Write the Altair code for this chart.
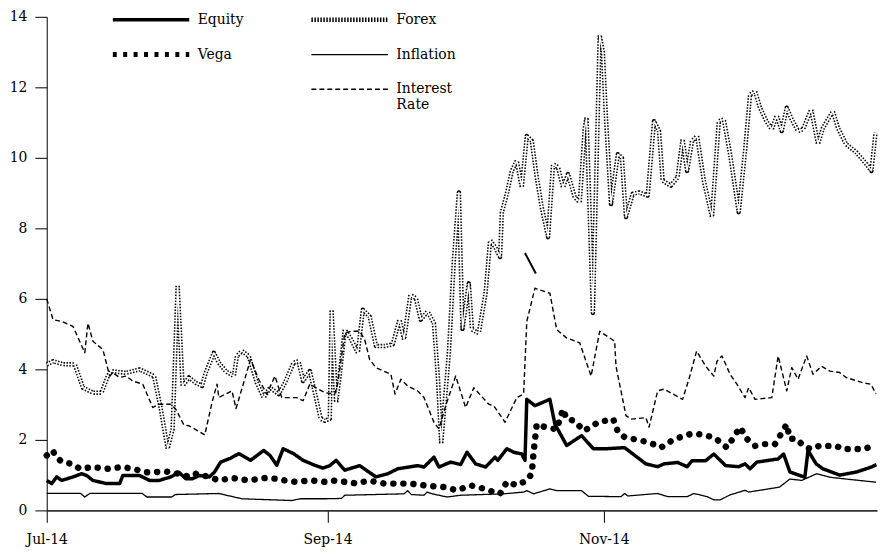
import altair as alt
import pandas as pd

START = pd.Timestamp("2014-07-01")

# ---- data (day offset from 1 Jul 2014, value) ----
eq_days = [0, 1.1, 2.2, 3.3, 5.8, 7.7, 8.8, 10.2, 13.2, 16.1, 16.8, 20.5, 22.7, 24.8, 27.4, 29.2,
           30.7, 32.2, 33.7, 35.9, 37.0, 38.4, 40.6, 42.4, 45.0, 47.9, 49.3, 50.8, 52.2, 54.5,
           56.6, 59.2, 61.0, 62.5, 63.9, 65.8, 69.1, 72.7, 75.3, 77.5, 81.9, 83.3, 85.5, 86.6,
           89.2, 91.4, 92.8, 94.7, 96.9, 99.0, 99.6, 101.6, 103.1, 104.9, 105.6, 106.0, 107.8,
           111.1, 112.2, 113.4, 114.8, 118.1, 120.7, 123.6, 127.6, 132.3, 134.9, 136.3, 139.3,
           141.4, 142.5, 145.5, 147.3, 149.9, 152.8, 154.2, 155.3, 156.8, 161.5, 162.7, 164.1,
           167.4, 168.1, 169.9, 171.4, 175.1, 178.8, 182.1, 183.2]
eq_vals = [0.85, 0.76, 0.95, 0.85, 0.95, 1.04, 0.99, 0.85, 0.76, 0.76, 0.99, 0.99, 0.85, 0.85, 0.95, 1.08,
           0.9, 0.9, 0.99, 0.95, 1.08, 1.37, 1.48, 1.61, 1.42, 1.7, 1.56, 1.28, 1.75, 1.61,
           1.42, 1.28, 1.2, 1.27, 1.42, 1.14, 1.27, 0.95, 1.04, 1.18, 1.27, 1.23, 1.51, 1.23,
           1.37, 1.3, 1.65, 1.32, 1.23, 1.51, 1.42, 1.75, 1.65, 1.6, 1.42, 3.15, 2.97,
           3.15, 2.45, 2.17, 1.84, 2.12, 1.75, 1.75, 1.78, 1.32, 1.24, 1.32, 1.36,
           1.24, 1.41, 1.41, 1.6, 1.27, 1.24, 1.32, 1.18, 1.37, 1.46, 1.6, 1.09,
           0.94, 1.7, 1.32, 1.18, 1.0, 1.09, 1.23, 1.3]

vega_days = [0, 1.3, 2.2, 3.3, 5.8, 7.3, 10.2, 13.2, 16.8, 19.0, 22.0, 26.4, 29.2, 31.4, 32.9,
             35.9, 38.0, 40.9, 44.6, 48.3, 50.4, 52.6, 54.8, 58.5, 61.4, 63.0, 65.8, 68.7, 70.9,
             74.6, 77.5, 80.4, 83.3, 87.7, 90.6, 93.6, 96.7, 98.7, 100.1, 101.6, 103.8, 106.0,
             107.1, 107.5, 108.2, 110.1, 112.6, 114.0, 114.8, 116.6, 118.5, 120.2, 121.7, 125.1,
             126.2, 127.6, 131.9, 134.1, 135.6, 137.8, 139.3, 142.2, 143.6, 145.8, 147.6, 150.2,
             151.7, 153.1, 154.6, 156.4, 158.2, 160.8, 163.4, 164.1, 165.5, 167.4, 168.8, 170.6,
             174.3, 175.8, 178.0, 180.5, 182.4]
vega_vals = [1.56, 1.7, 1.5, 1.38, 1.31, 1.18, 1.23, 1.18, 1.23, 1.18, 1.08, 1.1, 1.04, 0.95, 1.04,
             0.95, 0.85, 0.92, 0.85, 0.92, 0.9, 0.85, 0.81, 0.85, 0.81, 0.85, 0.81, 0.76, 0.85,
             0.76, 0.76, 0.76, 0.71, 0.66, 0.57, 0.71, 0.61, 0.52, 0.47, 0.81, 0.71, 0.85,
             1.04, 1.65, 2.45, 2.36, 2.3, 2.87, 2.59, 2.54, 2.26, 2.36, 2.5, 2.59,
             2.2, 2.08, 1.96, 1.87, 1.78, 1.96, 2.05, 2.17, 2.17, 2.12, 2.05, 1.78,
             2.08, 2.36, 2.03, 1.83, 1.88, 1.88, 2.44, 2.03, 2.03, 1.8, 1.74, 1.83,
             1.83, 1.74, 1.74, 1.74, 1.83]

fx_days = [0, 1.4, 3.5, 6.2, 8.0, 10.2, 12.1, 13.5, 14.2, 17.5, 20.5, 23.7, 25.2, 26.7, 27.8, 28.9,
           30.0, 31.4, 32.9, 34.3, 35.1, 36.9, 38.0, 39.5, 41.3, 42.0, 43.1, 44.6, 46.4, 47.9,
           49.3, 51.2, 52.6, 54.5, 55.6, 56.6, 58.1, 59.2, 60.5, 61.4, 62.5, 62.9, 63.9, 64.6,
           65.8, 67.2, 68.7, 69.8, 71.3, 72.7, 74.6, 76.4, 77.9, 78.9, 80.3, 81.5, 82.6, 84.1,
           85.5, 86.4, 87.1, 88.8, 89.9, 91.0, 91.8, 93.2, 93.9, 95.4, 96.9, 97.9, 99.0, 100.1,
           100.5, 101.6, 102.7, 103.8, 104.9, 106.0, 107.1, 108.2, 109.3, 110.7, 111.8, 112.9,
           114.0, 115.1, 116.6, 117.7, 118.8, 119.2, 120.6, 122.1, 122.8, 123.5, 124.6, 126.1,
           127.0, 127.9, 129.4, 130.8, 132.7, 134.1, 135.2, 136.0, 137.8, 139.3, 140.4, 141.4,
           142.5, 143.6, 145.1, 146.9, 148.4, 149.5, 150.9, 152.8, 154.2, 155.3, 156.4, 157.5,
           158.9, 160.1, 161.2, 162.3, 163.4, 164.5, 165.9, 167.0, 168.8, 170.3, 171.4, 173.6,
           174.7, 176.5, 178.8, 181.0, 182.1, 183.0]
fx_vals = [4.14, 4.23, 4.15, 4.14, 3.48, 3.34, 3.34, 3.81, 3.95, 3.9, 4.0, 3.81, 2.87, 1.75, 2.31, 6.39,
           3.53, 3.77, 3.62, 3.53, 3.9, 4.47, 4.19, 3.95, 3.81, 4.38, 4.52, 4.38, 3.62, 3.2,
           3.48, 3.3, 3.62, 4.19, 4.23, 3.67, 3.95, 3.34, 2.6, 2.54, 2.6, 5.69, 3.06, 3.72,
           5.13, 4.85, 4.47, 5.69, 5.5, 4.66, 4.66, 4.71, 5.41, 4.85, 6.11, 6.02, 5.41, 5.64,
           5.31, 3.72, 1.89, 4.47, 7.1, 9.02, 5.15, 6.44, 5.13, 5.03, 6.16, 7.66, 7.47, 7.19,
           8.46, 8.98, 9.63, 9.92, 9.16, 10.62, 10.48, 9.45, 8.6, 7.75, 9.82, 9.73,
           9.16, 9.54, 8.88, 8.74, 10.85, 11.15, 5.6, 13.48, 13.0, 11.1, 8.69, 10.1,
           10.0, 8.32, 8.98, 9.02, 8.93, 11.04, 10.76, 9.35, 9.21, 9.45, 10.53, 9.63,
           10.48, 10.62, 9.35, 8.32, 11.04, 11.09, 10.1, 8.46, 10.2, 11.79, 11.89, 11.42,
           11.04, 10.81, 11.2, 10.76, 11.42, 11.09, 10.76, 10.81, 11.37, 10.39, 10.85, 11.32,
           10.85, 10.39, 10.15, 9.82, 9.63, 10.71]

inf_days = [0, 7.5, 8.4, 9.5, 21.1, 22.1, 27.6, 28.4, 38.0, 43.1, 54.1, 56.0, 61.4, 65.1, 65.8,
            78.9, 79.7, 80.5, 83.3, 84.0, 85.1, 88.4, 91.4, 100.9, 105.3, 106.0, 107.5, 111.1,
            112.6, 118.1, 119.6, 126.8, 127.6, 128.3, 134.9, 137.1, 141.4, 142.9, 145.8, 147.3,
            148.7, 150.9, 154.2, 155.0, 161.8, 164.1, 166.7, 170.0, 172.9, 176.5, 183.1]
inf_vals = [0.48, 0.48, 0.38, 0.48, 0.48, 0.38, 0.38, 0.45, 0.48, 0.33, 0.28, 0.33, 0.33, 0.34, 0.43,
            0.47, 0.56, 0.45, 0.43, 0.52, 0.47, 0.38, 0.43, 0.47, 0.52, 0.56, 0.47, 0.61,
            0.56, 0.56, 0.4, 0.39, 0.48, 0.41, 0.48, 0.39, 0.39, 0.48, 0.39, 0.3,
            0.3, 0.44, 0.57, 0.52, 0.66, 0.89, 0.85, 1.04, 0.94, 0.89, 0.8]

ir_days = [0, 1.4, 3.3, 5.8, 8.4, 9.1, 10.2, 12.4, 13.9, 14.6, 16.1, 17.5, 19.0, 21.2, 23.4, 24.8,
           27.4, 28.5, 30.3, 31.4, 34.9, 36.5, 37.6, 38.0, 40.9, 41.8, 45.0, 46.8, 48.6, 50.4,
           51.9, 55.2, 56.6, 58.1, 60.7, 61.4, 63.6, 64.3, 65.8, 67.2, 69.1, 70.2, 71.3, 72.7,
           75.3, 76.0, 76.9, 78.2, 79.7, 81.9, 83.3, 85.5, 86.6, 88.1, 90.3, 92.5, 94.3, 97.6,
           98.7, 101.2, 103.8, 105.3, 106.0, 107.8, 111.1, 112.6, 114.8, 117.7, 120.2, 122.1,
           125.4, 125.7, 127.9, 129.0, 132.3, 133.0, 134.9, 136.3, 140.4, 141.8, 143.5, 145.5,
           147.3, 148.0, 149.1, 150.9, 152.4, 154.2, 155.0, 156.4, 160.1, 161.5, 163.4, 164.5,
           165.9, 167.8, 169.2, 171.1, 172.9, 175.1, 176.5, 180.2, 182.0, 183.1]
ir_vals = [6.0, 5.41, 5.36, 5.22, 4.47, 5.31, 4.8, 4.56, 3.81, 3.9, 3.77, 3.81, 3.67, 3.58, 2.92, 3.01,
           3.01, 2.87, 2.42, 2.4, 2.14, 3.06, 3.58, 3.2, 3.39, 2.89, 4.28, 3.72, 3.3, 3.81,
           3.2, 3.2, 3.11, 3.58, 3.39, 3.34, 3.3, 3.62, 5.03, 5.08, 5.08, 4.85, 4.28, 4.05,
           3.9, 3.86, 3.3, 3.72, 3.53, 3.39, 3.2, 2.5, 2.31, 2.97, 3.81, 2.92, 3.48, 3.01,
           2.97, 2.5, 3.2, 3.3, 5.36, 6.3, 6.16, 5.13, 4.89, 4.75, 3.81, 5.08,
           4.8, 4.09, 2.69, 2.59, 2.63, 2.36, 3.39, 3.44, 3.15, 3.72, 4.52, 4.09,
           3.81, 4.23, 4.38, 3.86, 3.58, 3.2, 3.48, 3.15, 3.2, 4.38, 3.39, 4.05,
           3.72, 4.38, 3.86, 4.09, 3.95, 3.91, 3.77, 3.62, 3.58, 3.3]

stray_days = [105.6, 108.0]
stray_vals = [7.3, 6.72]

# legend order (filled column by column): Equity, Vega, (blank) | Forex, Inflation, Interest Rate
series_domain = ["Equity", "Vega", " ", "Forex", "Inflation", "Interest Rate"]
color_range = ["black", "black", "white", "black", "black", "black"]
dash_range = [[1, 0], [4, 6.5], [1, 0], [1.5, 1.5], [1, 0], [5, 3]]
line_widths = {"Equity": 3.5, "Vega": 5, " ": 0, "Forex": 4.5, "Inflation": 1.3, "Interest Rate": 1.4}


def frame(name, days, vals):
    return pd.DataFrame({
        "date": START + pd.to_timedelta(days, unit="D"),
        "value": vals,
        "series": name,
    })


df = pd.concat([
    frame("Equity", eq_days, eq_vals),
    frame("Vega", vega_days, vega_vals),
    frame("Forex", fx_days, fx_vals),
    frame("Inflation", inf_days, inf_vals),
    frame("Interest Rate", ir_days, ir_vals),
], ignore_index=True)
stray_df = frame("stray", stray_days, stray_vals)

FONT = "DejaVu Serif"

x = alt.X(
    "date:T",
    scale=alt.Scale(domain=[alt.DateTime(year=2014, month=7, date=1),
                            alt.DateTime(year=2014, month=12, date=31, hours=8)], nice=False),
    axis=alt.Axis(values=[alt.DateTime(year=2014, month=7, date=1),
                          alt.DateTime(year=2014, month=9, date=1),
                          alt.DateTime(year=2014, month=11, date=1)],
                  format="%b-%y", title=None, grid=False, tickSize=12, labelPadding=10,
                  domainColor="#333333", domainWidth=1.6, labelFlush=False),
)
y = alt.Y(
    "value:Q",
    scale=alt.Scale(domain=[0, 14], nice=False),
    axis=alt.Axis(values=list(range(0, 15, 2)), title=None, grid=False, tickSize=12,
                  labelPadding=8, domainColor="black", domainWidth=1),
)

width_expr = " : ".join(
    f"datum.value == '{k}' ? {v}" for k, v in line_widths.items()
) + " : 1"

legend = alt.Legend(
    title=None, orient="none", legendX=66, legendY=-5, columns=2,
    symbolType="stroke", symbolSize=5929, clipHeight=16,
    symbolStrokeWidth={"expr": width_expr},
    symbolOffset=32,
    labelFont=FONT, labelFontSize=14, labelColor="black", labelOffset=40,
    rowPadding=19, columnPadding=67, padding=0, offset=0,
    labelExpr="datum.label == 'Interest Rate' ? ['Interest', 'Rate'] : datum.label",
)

enc = dict(
    color=alt.Color("series:N", scale=alt.Scale(domain=series_domain, range=color_range), legend=legend),
    strokeDash=alt.StrokeDash("series:N", scale=alt.Scale(domain=series_domain, range=dash_range), legend=legend),
)

base = alt.Chart(df).encode(x=x, y=y)


def series_line(name):
    return base.transform_filter(alt.datum.series == name).mark_line(
        strokeJoin="round", strokeWidth=line_widths[name]).encode(**enc)


forex = series_line("Forex")
forex_core = base.transform_filter(alt.datum.series == "Forex").mark_line(
    color="white", strokeWidth=1.4, strokeJoin="round")
ir = series_line("Interest Rate")
infl = series_line("Inflation")
equity = series_line("Equity")
vega = base.transform_filter(alt.datum.series == "Vega").mark_line(
    color="black", strokeWidth=6.5, strokeCap="round", strokeDash=[0.1, 10], strokeJoin="round")
stray = alt.Chart(stray_df).mark_line(color="black", strokeWidth=2).encode(x=x, y=y)

chart = alt.layer(forex, forex_core, ir, infl, equity, vega, stray).properties(
    width=836, height=497,
    autosize=alt.AutoSizeParams(type="none"),
    padding={"left": 39, "top": 7, "right": 2, "bottom": 37},
    background="white",
).configure_view(stroke=None).configure_axis(
    labelFont=FONT, labelFontSize=14, labelColor="black", tickColor="black", tickWidth=1,
)

chart.save("out.html", embed_options={"renderer": "svg", "actions": False})
